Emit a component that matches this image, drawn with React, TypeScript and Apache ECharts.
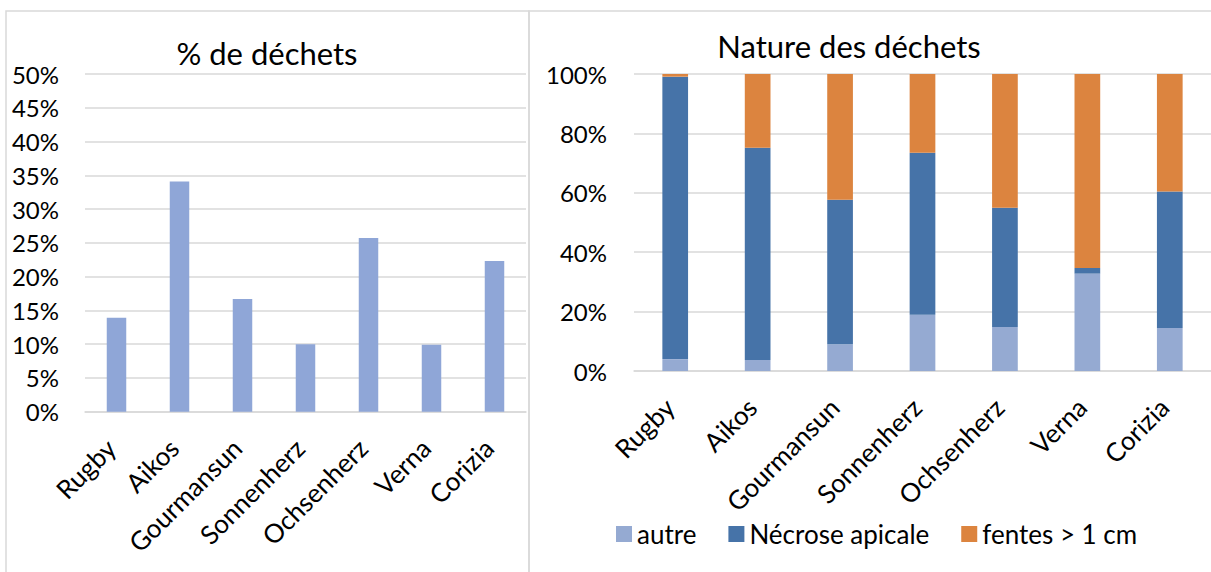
import React, { useEffect, useRef } from 'react';
import * as echarts from 'echarts';

const categories = ['Rugby', 'Aikos', 'Gourmansun', 'Sonnenherz', 'Ochsenherz', 'Verna', 'Corizia'];
const dechetsPct = [13.9, 34.1, 16.7, 10.0, 25.7, 9.9, 22.3];
const autre = [4.0, 3.7, 9.0, 18.9, 14.8, 32.8, 14.5];
const necrose = [95.1, 71.5, 48.7, 54.6, 40.2, 1.9, 45.9];
const fentes = [0.9, 24.8, 42.3, 26.5, 45.0, 65.3, 39.6];
const seriesNames = ['autre', 'Nécrose apicale', 'fentes > 1 cm'];
const titles = ['% de déchets', 'Nature des déchets'];

const FONT = 'Lato';
const GRID_COLOR = '#D9D9D9';

export default function App() {
  const ref = useRef<HTMLDivElement>(null);
  useEffect(() => {
    if (!ref.current) return;
    const chart = echarts.init(ref.current, undefined, { renderer: 'svg' });
    const axisLabelStyle = { color: '#000', fontFamily: FONT, fontSize: 24 };
    const xAxisCommon = {
      type: 'category' as const,
      data: categories,
      axisLine: { show: true, lineStyle: { color: GRID_COLOR, width: 1.5 } },
      axisTick: { show: false },
      axisLabel: {
        color: '#000', fontFamily: FONT, fontSize: 26,
        rotate: 45, margin: 26, interval: 0, padding: [0, 8, 0, 0],
      },
    };
    chart.setOption({
      animation: false,
      backgroundColor: '#fff',
      textStyle: { fontFamily: FONT },
      grid: [
        { left: 85, top: 74, width: 441, height: 337.7 },
        { left: 634, top: 74, width: 580, height: 297 },
      ],
      xAxis: [
        { ...xAxisCommon, gridIndex: 0 },
        { ...xAxisCommon, gridIndex: 1 },
      ],
      yAxis: [
        {
          type: 'value', gridIndex: 0, min: 0, max: 50, interval: 5,
          axisLine: { show: false }, axisTick: { show: false },
          splitLine: { lineStyle: { color: GRID_COLOR, width: 1.5 } },
          axisLabel: { ...axisLabelStyle, margin: 26, formatter: '{value}%' },
        },
        {
          type: 'value', gridIndex: 1, min: 0, max: 100, interval: 20,
          axisLine: { show: false }, axisTick: { show: false },
          splitLine: { lineStyle: { color: GRID_COLOR, width: 1.5 } },
          axisLabel: { ...axisLabelStyle, margin: 27, formatter: '{value}%' },
        },
      ],
      legend: {
        left: 611, top: 516,
        icon: 'rect', itemWidth: 16, itemHeight: 16, itemGap: 32,
        textStyle: { color: '#000', fontFamily: FONT, fontSize: 26 },
        data: seriesNames,
      },
      graphic: [
        { type: 'rect', shape: { x: 6, y: 11, width: 523, height: 600 }, style: { fill: 'none', stroke: GRID_COLOR, lineWidth: 1.5 }, silent: true },
        { type: 'rect', shape: { x: 529, y: 11, width: 720, height: 600 }, style: { fill: 'none', stroke: GRID_COLOR, lineWidth: 1.5 }, silent: true },
        { type: 'text', x: 267, y: 53, style: { text: titles[0], fontFamily: FONT, fontSize: 31, fill: '#000', textAlign: 'center', textVerticalAlign: 'middle' }, silent: true },
        { type: 'text', x: 849, y: 46, style: { text: titles[1], fontFamily: FONT, fontSize: 31, fill: '#000', textAlign: 'center', textVerticalAlign: 'middle' }, silent: true },
      ],
      series: [
        {
          type: 'bar', name: '% de déchets', xAxisIndex: 0, yAxisIndex: 0,
          data: dechetsPct, barWidth: 19.5, itemStyle: { color: '#8FA6D7' },
        },
        {
          type: 'bar', name: seriesNames[0], xAxisIndex: 1, yAxisIndex: 1, stack: 'n',
          data: autre, barWidth: 25.7, itemStyle: { color: '#95AAD2' },
        },
        {
          type: 'bar', name: seriesNames[1], xAxisIndex: 1, yAxisIndex: 1, stack: 'n',
          data: necrose, barWidth: 25.7, itemStyle: { color: '#4673A8' },
        },
        {
          type: 'bar', name: seriesNames[2], xAxisIndex: 1, yAxisIndex: 1, stack: 'n',
          data: fentes, barWidth: 25.7, itemStyle: { color: '#DC843F' },
        },
      ],
    });
    return () => chart.dispose();
  }, []);
  return (
    <div
      ref={ref}
      style={{ position: 'fixed', left: 0, top: 0, width: 1211, height: 572, background: '#fff' }}
    />
  );
}
